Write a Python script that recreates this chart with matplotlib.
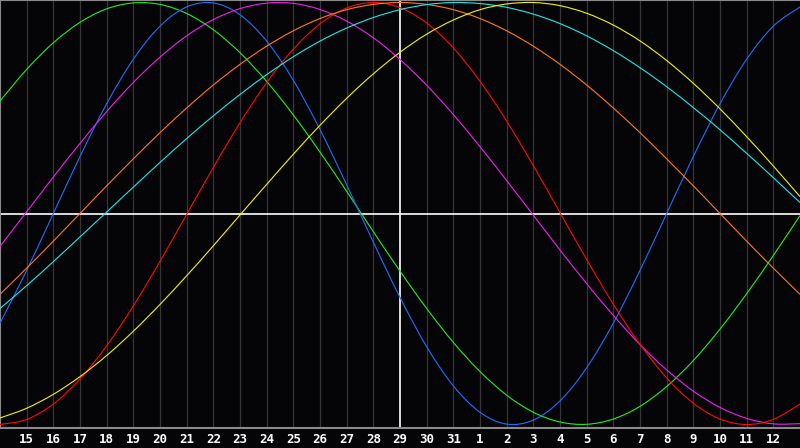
import matplotlib
matplotlib.use("Agg")
import matplotlib.pyplot as plt
from matplotlib.path import Path
from matplotlib.patches import PathPatch
import numpy as np

# days across the window (left edge is the 14th, right edge the 13th)
days = list(range(14, 32)) + list(range(1, 14))
today = 29

# cycle values, one per day, range -1..1
blue = [-0.520, -0.270, 0.000, 0.270, 0.520, 0.731, 0.888, 0.979, 0.998, 0.942, 0.817,
        0.631, 0.398, 0.136, -0.136, -0.398, -0.631, -0.817, -0.942, -0.998, -0.979,
        -0.888, -0.731, -0.520, -0.270, 0.000, 0.270, 0.520, 0.731, 0.888, 0.979]
green = [0.533, 0.683, 0.809, 0.906, 0.970, 0.998, 0.991, 0.948, 0.871, 0.762, 0.626,
         0.467, 0.291, 0.105, -0.086, -0.273, -0.450, -0.611, -0.749, -0.861, -0.942,
         -0.988, -0.999, -0.974, -0.914, -0.820, -0.697, -0.548, -0.380, -0.199, -0.010]
magenta = [-0.156, 0.008, 0.173, 0.332, 0.483, 0.621, 0.741, 0.842, 0.919, 0.971, 0.997,
           0.996, 0.967, 0.912, 0.833, 0.730, 0.608, 0.469, 0.317, 0.156, -0.008,
           -0.173, -0.332, -0.483, -0.621, -0.741, -0.842, -0.919, -0.971, -0.997, -0.996]
red = [-1.000, -0.976, -0.903, -0.784, -0.627, -0.438, -0.227, -0.004, 0.218, 0.430, 0.620,
       0.779, 0.899, 0.974, 1.000, 0.976, 0.903, 0.785, 0.627, 0.438, 0.227,
       0.004, -0.218, -0.430, -0.620, -0.779, -0.899, -0.974, -1.000, -0.976, -0.903]
orange = [-0.383, -0.259, -0.131, 0.000, 0.131, 0.259, 0.383, 0.500, 0.609, 0.707, 0.793,
          0.866, 0.924, 0.966, 0.991, 1.000, 0.991, 0.966, 0.924, 0.866, 0.793,
          0.707, 0.609, 0.500, 0.383, 0.259, 0.131, 0.000, -0.131, -0.259, -0.383]
cyan = [-0.450, -0.342, -0.228, -0.111, 0.007, 0.125, 0.242, 0.355, 0.463, 0.564, 0.658,
        0.743, 0.817, 0.879, 0.929, 0.966, 0.990, 1.000, 0.995, 0.977, 0.945,
        0.900, 0.842, 0.772, 0.691, 0.601, 0.502, 0.397, 0.285, 0.170, 0.052]
yellow = [-0.969, -0.923, -0.857, -0.773, -0.673, -0.558, -0.431, -0.295, -0.153, -0.007, 0.138,
          0.281, 0.418, 0.546, 0.662, 0.764, 0.850, 0.917, 0.966, 0.993, 1.000,
          0.985, 0.949, 0.893, 0.818, 0.725, 0.617, 0.496, 0.364, 0.225, 0.080]

series = [
    (green, "#22ee22"),
    (blue, "#1f6fff"),
    (magenta, "#f020f0"),
    (red, "#ff0a0a"),
    (orange, "#ff7a1a"),
    (cyan, "#20e8e8"),
    (yellow, "#f2f20a"),
]


def smooth_path(xs, ys):
    # Catmull-Rom through the data points, drawn as cubic Bezier segments
    xs = np.asarray(xs, float)
    ys = np.asarray(ys, float)
    verts = [(xs[0], ys[0])]
    codes = [Path.MOVETO]
    n = len(xs)
    for i in range(n - 1):
        i0, i3 = max(i - 1, 0), min(i + 2, n - 1)
        c1 = (xs[i] + (xs[i + 1] - xs[i0]) / 6, ys[i] + (ys[i + 1] - ys[i0]) / 6)
        c2 = (xs[i + 1] - (xs[i3] - xs[i]) / 6, ys[i + 1] - (ys[i3] - ys[i]) / 6)
        verts += [c1, c2, (xs[i + 1], ys[i + 1])]
        codes += [Path.CURVE4] * 3
    return Path(verts, codes)


W, H = 800, 448
plot_h = 428
fig = plt.figure(figsize=(W / 100, H / 100), dpi=100)
fig.patch.set_facecolor("#050508")
ax = fig.add_axes([0, (H - plot_h) / H, 1, plot_h / H])
ax.set_facecolor("#050508")

x = np.arange(len(days))
amp = 211
ax.set_xlim(0, len(days) - 1)
ax.set_ylim(-(plot_h - 213.5) / amp, 213.5 / amp)

t_today = days.index(today)
for i in range(1, len(days) - 1):
    if i != t_today:
        ax.axvline(i, color="#36363a", lw=0.9, zorder=1)
ax.axvline(t_today, color="white", lw=1.2, zorder=2)
ax.axhline(0, color="white", lw=1.2, zorder=2)

for vals, col in series:
    ax.add_patch(PathPatch(smooth_path(x, vals), facecolor="none",
                           edgecolor=col, lw=0.8, zorder=3))

ax.set_xticks([])
ax.set_yticks([])
for side in ["left", "top", "bottom"]:
    ax.spines[side].set_color("#8a8a8a")
    ax.spines[side].set_linewidth(1.5)
ax.spines["right"].set_visible(False)

# day labels under the plot
for i in range(1, len(days) - 1):
    ax.text(i, -0.012, str(days[i]), transform=ax.get_xaxis_transform(),
            ha="center", va="top", color="white", fontsize=9,
            fontweight="bold", family="DejaVu Sans Mono")

fig.savefig("out.png", dpi=100, facecolor=fig.get_facecolor())
